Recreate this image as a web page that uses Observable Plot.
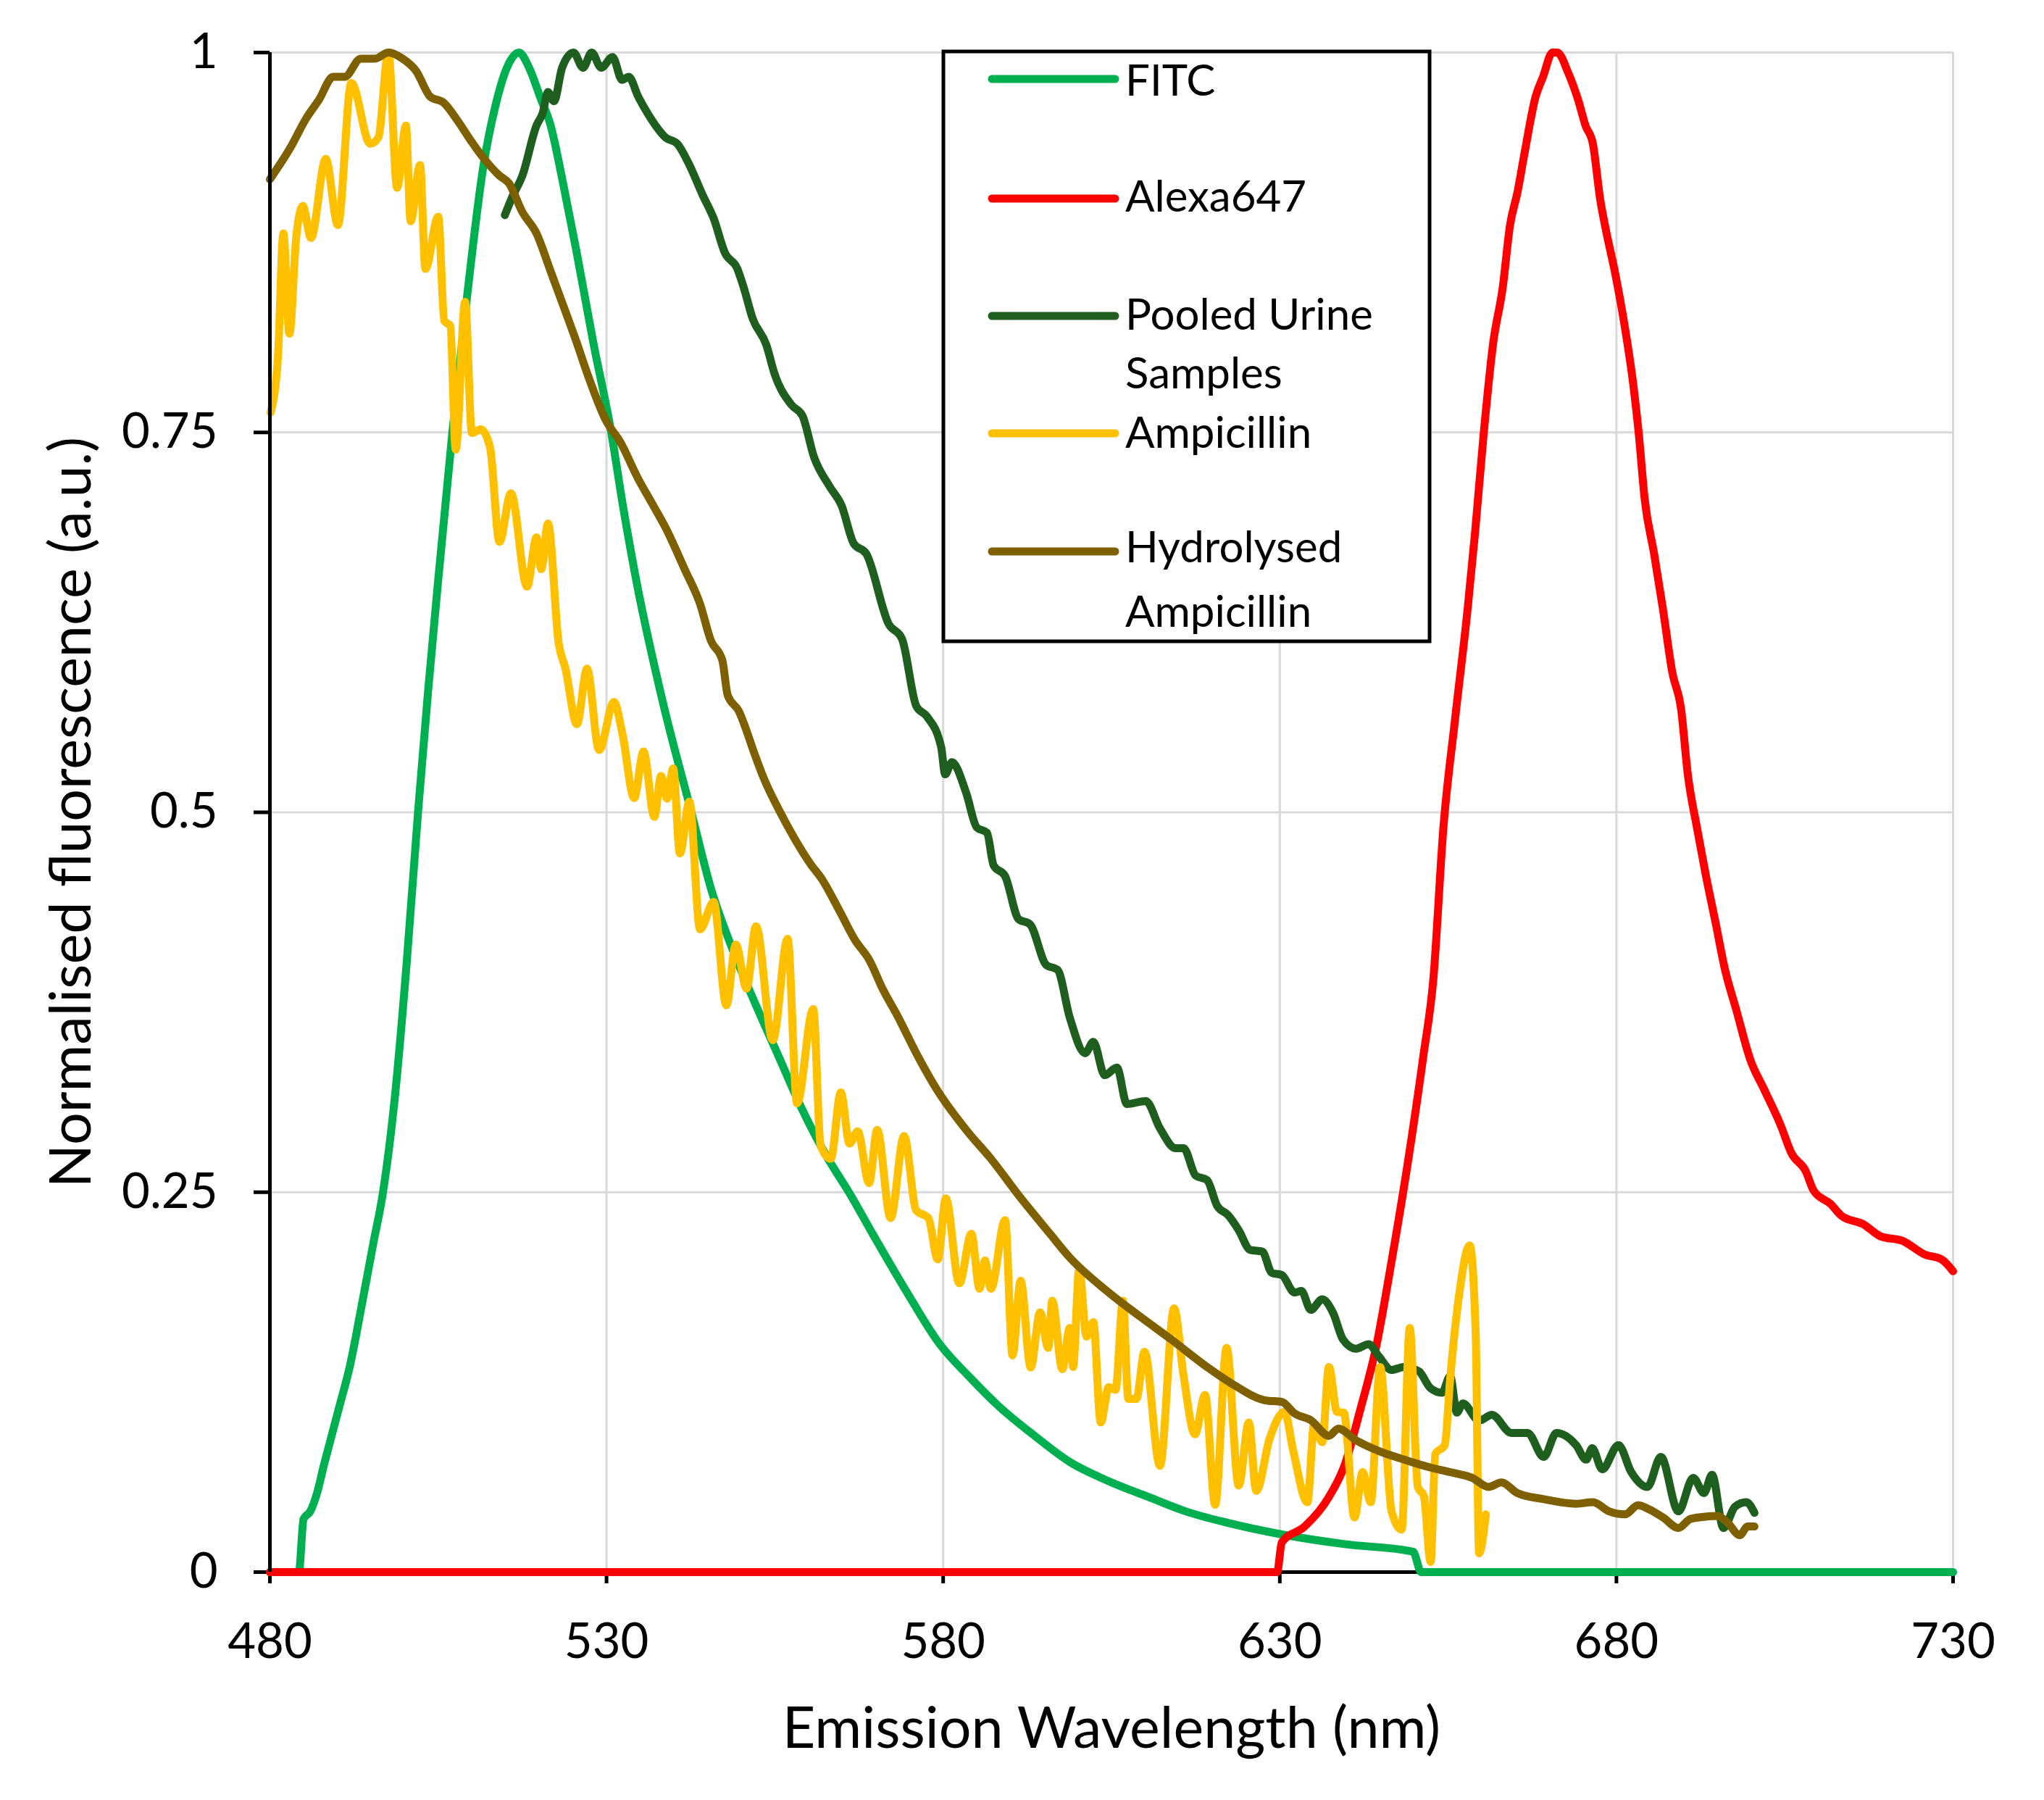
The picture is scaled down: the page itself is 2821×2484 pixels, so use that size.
<!DOCTYPE html>
<html>
<head>
<meta charset="utf-8">
<script src="https://cdn.jsdelivr.net/npm/d3@7"></script>
<script src="https://cdn.jsdelivr.net/npm/@observablehq/plot@0.6"></script>
<style>
  html, body { margin: 0; padding: 0; background: #fff; }
  #chart svg { display: block; }
</style>
</head>
<body>
<div id="chart"></div>
<script>
// ---------- data ----------
const seriesNames = ["FITC", "Alexa647", "Pooled Urine Samples", "Ampicillin", "Hydrolysed Ampicillin"];
const legendLines = [["FITC"], ["Alexa647"], ["Pooled Urine", "Samples"], ["Ampicillin"], ["Hydrolysed", "Ampicillin"]];
const seriesColors = ["#00B050", "#FF0000", "#1E5E1E", "#FFC000", "#7F6000"];
const xTicks = [480, 530, 580, 630, 680, 730];
const yTicks = [0, 0.25, 0.5, 0.75, 1];
const xLabel = "Emission Wavelength (nm)";
const yLabel = "Normalised fluorescence (a.u.)";

const fitcNm  = [480, 484.3, 485, 486, 487, 488, 489.3, 490.5, 491.8, 493.7, 495.3, 496.8, 498.5, 500.3, 502.0, 503.5, 505.0, 507.1, 509.3, 511.7, 513.5, 515.2, 517.0, 518.5, 520.2, 521.7, 523.5, 525.5, 528, 530.7, 532.5, 534.4, 538.5, 542.6, 545.5, 548.7, 552, 555.5, 559, 562.9, 566, 569.6, 574.5, 579.5, 584, 588.3, 593.5, 598.8, 604.5, 610.4, 616, 622.1, 630.3, 639.6, 649.8, 651, 730];
const fitcVal = [0, 0, 0.035, 0.04, 0.052, 0.07, 0.092, 0.112, 0.134, 0.177, 0.215, 0.25, 0.31, 0.40, 0.50, 0.58, 0.653, 0.75, 0.84, 0.925, 0.965, 0.99, 1.0, 0.99, 0.97, 0.952, 0.915, 0.87, 0.81, 0.75, 0.70, 0.653, 0.57, 0.50, 0.45, 0.41, 0.375, 0.34, 0.305, 0.272, 0.25, 0.222, 0.185, 0.150, 0.128, 0.109, 0.09, 0.0725, 0.06, 0.0496, 0.04, 0.0326, 0.0248, 0.0184, 0.0134, 0, 0];

const alexaNm  = [480, 629.6, 630.3, 633.7, 637.3, 639.6, 641.9, 644.3, 646.6, 649, 651.3, 652.8, 654.3, 656, 657.9, 659, 660.3, 661.7, 663.1, 664.2, 665.3, 666.4, 668, 669.1, 670.5, 671.2, 672.9, 674.3, 675.4, 676.5, 677.6, 678.4, 679.8, 681.2, 682.5, 683.3, 684.2, 685.6, 686.9, 688.3, 689.6, 690.6, 692, 693.3, 694.7, 696.1, 697.8, 699.9, 701.9, 704.4, 706, 708.1, 709.3, 711.8, 713.4, 716.8, 719.2, 722.5, 725.8, 728.3, 730];
const alexaVal = [0, 0, 0.0196, 0.030, 0.0495, 0.070, 0.106, 0.148, 0.2045, 0.269, 0.339, 0.39, 0.49, 0.56, 0.634, 0.684, 0.75, 0.809, 0.845, 0.8865, 0.908, 0.935, 0.971, 0.984, 1.0, 1.0, 0.986, 0.969, 0.952, 0.94, 0.903, 0.884, 0.855, 0.8206, 0.7816, 0.75, 0.706, 0.67, 0.634, 0.592, 0.568, 0.525, 0.489, 0.458, 0.428, 0.397, 0.37, 0.337, 0.318, 0.294, 0.2756, 0.264, 0.251, 0.2423, 0.2346, 0.2286, 0.221, 0.218, 0.209, 0.2058, 0.198];

const pooledNm  = [514.9, 516, 517.5, 519.6, 520.5, 521.3, 522.2, 523.4, 525.1, 526.5, 527.8, 529.2, 530.9, 532.3, 533.3, 534.7, 536.1, 538.8, 540.5, 542.2, 544.3, 545.9, 547.6, 549.4, 550.4, 551.7, 553.7, 555, 557.5, 559.1, 560.8, 563.2, 564.9, 566.7, 568.6, 571.9, 573.9, 576, 577.6, 579.7, 580.3, 581.3, 583.4, 585, 586.5, 587.5, 589.2, 591.2, 592.9, 595.3, 597, 598.8, 601.1, 602.3, 604, 605.8, 607.3, 610.1, 612.2, 614.5, 615.7, 617.5, 619.2, 620.7, 622.3, 623.9, 625.6, 627.4, 628.8, 630.3, 632.2, 633.2, 634.6, 636.3, 637.9, 639.4, 641.3, 643.2, 644.7, 646.6, 648.4, 649.5, 650.7, 652.4, 654.1, 655.3, 656.3, 657.2, 659.6, 661.5, 664.4, 666.8, 669.2, 671.1, 674, 675.5, 676.4, 677.9, 680.3, 682.2, 684.6, 686.6, 689.2, 691.4, 693, 694.2, 695.9, 697.6, 699.3, 700.5];
const pooledVal = [0.893, 0.905, 0.919, 0.952, 0.96, 0.974, 0.968, 0.99, 1.0, 0.99, 1.0, 0.99, 0.997, 0.982, 0.984, 0.971, 0.96, 0.944, 0.94, 0.927, 0.906, 0.891, 0.868, 0.858, 0.845, 0.825, 0.808, 0.788, 0.768, 0.761, 0.734, 0.714, 0.702, 0.677, 0.670, 0.624, 0.614, 0.570, 0.563, 0.543, 0.525, 0.533, 0.513, 0.490, 0.4866, 0.465, 0.458, 0.4297, 0.4263, 0.3996, 0.3963, 0.365, 0.3415, 0.349, 0.327, 0.332, 0.308, 0.31, 0.292, 0.279, 0.279, 0.261, 0.258, 0.241, 0.235, 0.225, 0.212, 0.211, 0.197, 0.1955, 0.184, 0.185, 0.1726, 0.1795, 0.1707, 0.153, 0.147, 0.15, 0.142, 0.133, 0.135, 0.134, 0.132, 0.121, 0.118, 0.129, 0.105, 0.111, 0.0997, 0.1035, 0.0916, 0.0916, 0.0758, 0.0916, 0.0836, 0.074, 0.0815, 0.0677, 0.0836, 0.0658, 0.056, 0.0758, 0.04, 0.062, 0.052, 0.064, 0.029, 0.043, 0.046, 0.039];

const ampNm  = [480.1, 481.2, 482, 482.9, 483.9, 484.9, 486.1, 488.3, 490.1, 492.1, 494.9, 496.1, 497.6, 498.9, 500.2, 500.9, 502.3, 503.1, 505, 505.9, 506.8, 507.6, 509, 510, 511.3, 512.7, 514.1, 515.8, 518.2, 519.6, 520.3, 521.3, 522.9, 523.9, 525.6, 527.1, 528.9, 531.1, 532.4, 534.1, 535.5, 537.1, 538.1, 539, 539.9, 540.9, 542.3, 543.9, 545.9, 547.8, 549.2, 550.8, 552.2, 554.7, 556.9, 558.3, 560.7, 561.8, 563.3, 564.8, 566.1, 567.3, 569, 570.2, 572.2, 574.2, 576, 577.8, 579.2, 580.4, 582.4, 584.2, 585.4, 586.2, 587.1, 589.2, 590.3, 591.5, 593, 594.4, 595.6, 596.2, 597.7, 598.8, 599.3, 600.2, 601.3, 602.3, 603.4, 604.6, 605.6, 606.7, 607.5, 608.7, 609.9, 612.2, 614.3, 615.7, 617.4, 618.9, 620.4, 622.1, 623.9, 625.4, 626.5, 628.5, 630.7, 632, 634.1, 635.1, 636.3, 637.3, 638.5, 639.5, 641.1, 642.3, 643.5, 644.9, 646.6, 648.1, 649.3, 650.5, 651.4, 652.4, 653.1, 654.5, 655.3, 656.7, 658.2, 659.1, 659.6, 660.6];
const ampVal = [0.763, 0.80, 0.881, 0.815, 0.878, 0.899, 0.878, 0.930, 0.8865, 0.98, 0.94, 0.944, 1.0, 0.911, 0.952, 0.889, 0.926, 0.8576, 0.892, 0.8234, 0.82, 0.7387, 0.836, 0.7497, 0.752, 0.74, 0.678, 0.71, 0.6485, 0.681, 0.66, 0.69, 0.611, 0.5946, 0.558, 0.5945, 0.541, 0.5726, 0.5507, 0.5094, 0.54, 0.497, 0.524, 0.509, 0.5288, 0.473, 0.507, 0.423, 0.441, 0.373, 0.413, 0.384, 0.425, 0.35, 0.4168, 0.3085, 0.3705, 0.2806, 0.272, 0.3157, 0.282, 0.29, 0.256, 0.291, 0.233, 0.287, 0.238, 0.233, 0.2058, 0.246, 0.19, 0.2227, 0.1865, 0.205, 0.1865, 0.2317, 0.1426, 0.1917, 0.1347, 0.171, 0.1476, 0.1786, 0.1335, 0.1607, 0.135, 0.1993, 0.155, 0.1645, 0.0985, 0.1217, 0.12, 0.1786, 0.114, 0.114, 0.145, 0.070, 0.1736, 0.1295, 0.0907, 0.1166, 0.0443, 0.1476, 0.057, 0.0985, 0.0534, 0.088, 0.1055, 0.0797, 0.046, 0.0975, 0.0855, 0.135, 0.1054, 0.105, 0.036, 0.0658, 0.046, 0.135, 0.04, 0.028, 0.1607, 0.056, 0.05, 0.0067, 0.0777, 0.0836, 0.127, 0.1846, 0.215, 0.157, 0.0124, 0.038];

const hydroNm  = [480, 483.2, 485.3, 487.3, 489.4, 491.1, 493.5, 495.6, 497.6, 499.7, 501.7, 503.8, 505.8, 507.9, 510, 511.3, 514.1, 515.5, 517.5, 519.6, 521.7, 523.7, 525.5, 527.2, 529.9, 532, 534.7, 536.8, 538.8, 541.6, 543.9, 545.5, 547.2, 548, 549.6, 552.1, 553.3, 555.8, 557.9, 560.3, 562, 564.5, 566.9, 569, 571.1, 573.1, 576.3, 579, 583.6, 587.1, 591.2, 595.8, 598.8, 604.6, 609.3, 613.9, 619.2, 622.7, 627.9, 630.3, 632.2, 634.6, 637.3, 638.7, 641.3, 644.7, 648.5, 652.4, 655.3, 658.6, 661, 662.9, 665.3, 669.2, 674, 676.5, 678.9, 681.3, 683.2, 685, 687, 689.2, 691, 693.7, 695, 696.5, 698.3, 699.5, 700.5];
const hydroVal = [0.9166, 0.9386, 0.956, 0.969, 0.984, 0.984, 0.996, 0.996, 1.0, 0.996, 0.988, 0.971, 0.967, 0.955, 0.941, 0.933, 0.919, 0.914, 0.895, 0.881, 0.856, 0.832, 0.81, 0.788, 0.758, 0.744, 0.7195, 0.703, 0.687, 0.66, 0.637, 0.613, 0.6, 0.577, 0.567, 0.537, 0.523, 0.5, 0.483, 0.466, 0.456, 0.436, 0.416, 0.403, 0.383, 0.367, 0.339, 0.318, 0.29, 0.272, 0.248, 0.223, 0.207, 0.184, 0.168, 0.153, 0.135, 0.1245, 0.113, 0.112, 0.1044, 0.1, 0.0897, 0.0944, 0.0868, 0.0797, 0.074, 0.0688, 0.0658, 0.062, 0.056, 0.059, 0.052, 0.048, 0.045, 0.046, 0.040, 0.038, 0.044, 0.041, 0.0357, 0.029, 0.035, 0.0367, 0.037, 0.0326, 0.0243, 0.030, 0.030];

// ---------- build tables ----------
const allNm = [fitcNm, alexaNm, pooledNm, ampNm, hydroNm];
const allVal = [fitcVal, alexaVal, pooledVal, ampVal, hydroVal];
const tables = allNm.map((nms, i) => nms.map((nm, j) => ({series: seriesNames[i], nm, v: allVal[i][j]})));

const FONT = "Lato, 'Open Sans', sans-serif";
const LW = 11;
const gridStyle = {stroke: "#d9d9d9", strokeOpacity: 1, strokeWidth: 3};

const chart = Plot.plot({
  width: 2821,
  height: 2484,
  marginLeft: 372,
  marginRight: 126,
  marginTop: 72,
  marginBottom: 315,
  style: {fontFamily: FONT, background: "white", color: "black", overflow: "visible"},
  x: {domain: [480, 730]},
  y: {domain: [0, 1]},
  marks: [
    Plot.gridX({ticks: xTicks.slice(1), ...gridStyle}),
    Plot.gridY({ticks: yTicks.slice(1), ...gridStyle}),
    Plot.ruleY([0], {stroke: "black", strokeWidth: 5}),
    Plot.axisX({ticks: xTicks, tickFormat: d => String(d), tickSize: 16, tickPadding: 55, fontSize: 67, stroke: "black", strokeWidth: 5, fill: "black", label: null}),
    Plot.axisY({ticks: yTicks, tickFormat: d => String(d), tickSize: 22, tickPadding: 50, fontSize: 67, stroke: "black", strokeWidth: 5, fill: "black", label: null}),
    ...tables.map((t, i) => Plot.line(t, {x: "nm", y: "v", stroke: seriesColors[i], strokeWidth: LW, strokeLinejoin: "round", strokeLinecap: "round", curve: "monotone-x"})),
    Plot.ruleX([480], {stroke: "black", strokeWidth: 5}),
    Plot.text([xLabel], {text: d => d, frameAnchor: "bottom", dy: 217, fontSize: 79, lineAnchor: "middle", fill: "black"}),
    Plot.text([yLabel], {text: d => d, frameAnchor: "left", dx: -273, rotate: -90, fontSize: 79, lineAnchor: "middle", textAnchor: "middle", fill: "black"})
  ]
});

// ---------- legend (inside the plot frame, as in the reference) ----------
const svg = d3.select(chart);
const lg = svg.append("g").attr("font-family", FONT).attr("font-size", 60).attr("text-anchor", "start");
lg.append("rect").attr("x", 1302).attr("y", 71).attr("width", 671).attr("height", 814)
  .attr("fill", "white").attr("stroke", "black").attr("stroke-width", 5);
const lineY = [109, 274, 436, 598, 761];
const textBase = [[131.5], [291.5], [455, 536], [618], [776, 865]];
legendLines.forEach((lines, i) => {
  lg.append("line").attr("x1", 1369).attr("x2", 1539).attr("y1", lineY[i]).attr("y2", lineY[i])
    .attr("stroke", seriesColors[i]).attr("stroke-width", 11).attr("stroke-linecap", "round");
  lines.forEach((s, k) => {
    lg.append("text").attr("x", 1553).attr("y", textBase[i][k]).attr("fill", "black")
      .attr("text-anchor", "start").text(s);
  });
});

document.getElementById("chart").appendChild(chart);
</script>
</body>
</html>
